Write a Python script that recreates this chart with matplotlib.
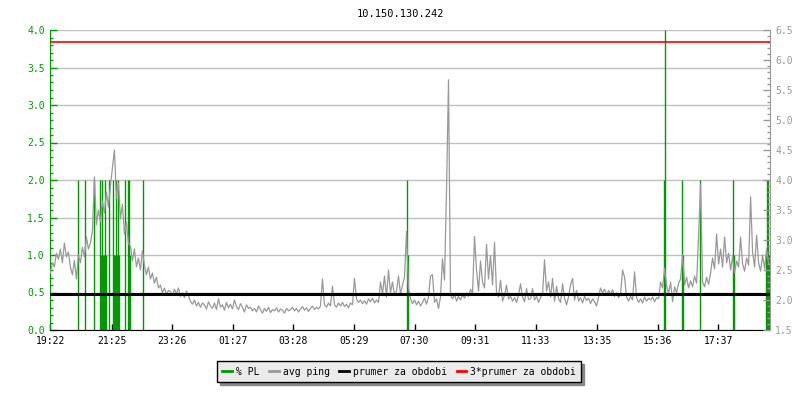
import numpy as np
import matplotlib.pyplot as plt
from matplotlib.lines import Line2D
from matplotlib.ticker import MultipleLocator, FormatStrFormatter

plt.rcParams['font.family'] = ['DejaVu Sans Mono']

# popis grafu
title = "10.150.130.242"
start_time = "19:22"
step_min = 4
tick_labels = ["19:22", "21:25", "23:26", "01:27", "03:28", "05:29",
               "07:30", "09:31", "11:33", "13:35", "15:36", "17:37"]

# avg ping [ms], jeden vzorek kazde 4 minuty
avg_ping = [
    2.45, 2.62, 2.55, 2.78, 2.68, 2.85, 2.62, 2.95, 2.72, 2.80, 2.55, 2.42, 2.66, 2.35, 2.75, 2.62, 2.88, 2.72, 3.05, 2.85,
    2.95, 3.15, 4.05, 3.25, 3.50, 3.30, 3.65, 3.45, 3.80, 3.55, 3.90, 4.20, 4.50, 3.70, 3.95, 3.35, 3.60, 3.10, 3.30, 2.95,
    2.90, 2.65, 2.85, 2.55, 2.70, 2.50, 2.82, 2.58, 2.42, 2.55, 2.35, 2.45, 2.28, 2.38, 2.20, 2.25, 2.12, 2.20, 2.10, 2.16,
    2.14, 2.08, 2.18, 2.10, 2.20, 2.06, 2.12, 2.04, 2.15, 2.08, 1.98, 1.93, 2.00, 1.90, 1.96, 1.88, 1.95, 1.92, 1.85, 1.97,
    1.90, 1.86, 1.95, 1.84, 2.02, 1.88, 1.92, 1.83, 1.96, 1.87, 1.93, 1.85, 2.00, 1.89, 1.84, 1.94, 1.88, 1.80, 1.92, 1.86,
    1.88, 1.82, 1.86, 1.80, 1.90, 1.84, 1.78, 1.86, 1.81, 1.88, 1.79, 1.84, 1.82, 1.87, 1.80, 1.85, 1.83, 1.78, 1.86, 1.82,
    1.84, 1.88, 1.82, 1.86, 1.80, 1.85, 1.89, 1.83, 1.87, 1.81, 1.86, 1.90, 1.84, 1.88, 1.85, 1.90, 2.35, 1.92, 1.88, 1.95,
    1.90, 2.23, 1.92, 1.88, 1.95, 1.90, 1.96, 1.89, 1.93, 1.87, 1.95, 1.92, 2.36, 2.02, 1.96, 2.00, 1.94, 1.99, 1.93, 2.02,
    1.97, 2.03, 1.95, 2.00, 1.96, 2.30, 2.10, 2.40, 2.05, 2.50, 2.12, 2.30, 2.08, 2.15, 2.40, 2.10, 2.25, 2.38, 3.14, 2.20,
    2.02, 1.94, 2.00, 1.92, 1.98, 1.90, 1.96, 2.03, 1.93, 2.05, 2.40, 2.42, 1.96, 2.02, 1.86, 2.05, 2.69, 2.33, 3.83, 5.67,
    2.08, 2.02, 2.10, 1.98, 2.06, 2.00, 2.09, 2.03, 2.12, 2.06, 2.18, 2.10, 3.06, 2.50, 2.15, 2.65, 2.30, 2.20, 2.93, 2.35,
    2.74, 2.25, 2.96, 2.12, 2.05, 2.33, 1.98, 2.08, 2.25, 2.02, 2.06, 1.98, 2.04, 1.96, 2.08, 2.27, 2.05, 1.97, 2.19, 2.01,
    2.02, 2.19, 2.00, 2.06, 1.96, 2.04, 2.10, 2.67, 2.15, 2.30, 2.05, 2.36, 1.98, 2.23, 2.02, 1.96, 2.27, 2.03, 1.92, 2.05,
    2.25, 2.36, 2.00, 2.16, 1.98, 2.04, 1.95, 2.06, 1.99, 2.03, 1.94, 2.02, 1.97, 1.90, 2.05, 2.20, 2.12, 2.18, 2.08, 2.16,
    2.10, 2.17, 2.06, 2.12, 2.04, 2.10, 2.50, 2.38, 2.05, 1.98, 2.06, 2.00, 2.47, 2.04, 1.96, 2.02, 1.95, 2.05, 1.98, 2.03,
    2.00, 2.05, 1.97, 2.04, 2.02, 2.30, 2.20, 2.53, 2.25, 2.10, 2.30, 1.97, 2.22, 2.12, 2.28, 2.35, 2.75, 2.25, 2.38, 2.20,
    2.32, 2.22, 2.40, 2.28, 3.08, 3.93, 2.30, 2.22, 2.38, 2.26, 2.45, 2.70, 2.52, 3.10, 2.60, 2.85, 2.55, 3.05, 2.62, 2.78,
    2.50, 2.72, 2.45, 2.65, 2.55, 3.05, 2.60, 2.48, 2.70, 2.58, 3.72, 2.80, 2.55, 3.08, 2.62, 2.48, 2.75, 2.52, 2.85, 2.60,
]

# % PL - jen nenulove vzorky (minuty od zacatku, hodnota)
pl_minutes = [56, 69, 87, 100, 102, 104, 106, 108, 110, 112, 117,
              126, 128, 130, 131, 132, 134, 136, 138, 149, 156, 158, 160, 185,
              713, 715, 1227, 1229, 1263, 1265, 1298, 1365, 1367,
              1431, 1432, 1433, 1434, 1435, 1436]
pl_values = [2, 2, 2, 2, 1, 2, 1, 1, 2, 1, 2,
             2, 1, 1, 2, 1, 1, 2, 1, 2, 2, 2, 1, 2,
             2, 1, 2, 4, 2, 1, 2, 2, 1,
             1, 2, 1, 1, 2, 1]

prumer = 2.1  # prumer za obdobi [ms]

green = '#009900'
grey = '#999999'


def minutes_since_start(hhmm):
    h, m = map(int, hhmm.split(':'))
    h0, m0 = map(int, start_time.split(':'))
    return (h * 60 + m - h0 * 60 - m0) % 1440


t = np.arange(len(avg_ping)) * step_min
tick_pos = [minutes_since_start(s) for s in tick_labels]

fig = plt.figure(figsize=(8, 4), dpi=100)
ax = fig.add_axes([0.063, 0.175, 0.899, 0.75])
ax2 = ax.twinx()

ax.vlines(pl_minutes, 0, pl_values, color=green, lw=1.0)
ax2.plot(t, avg_ping, color=grey, lw=0.9)
ax2.axhline(prumer, color='black', lw=2.2)
ax2.axhline(3 * prumer, color='red', lw=1.2)

ax.set_xlim(0, 1438)
ax.set_ylim(0, 4)
ax2.set_ylim(1.5, 6.5)

ax.set_xticks(tick_pos)
ax.set_xticklabels(tick_labels)
ax.tick_params(axis='x', direction='in', length=4, width=1, pad=4, labelsize=7)

for a, c in ((ax, green), (ax2, grey)):
    a.yaxis.set_major_locator(MultipleLocator(0.5))
    a.yaxis.set_minor_locator(MultipleLocator(0.1))
    a.yaxis.set_major_formatter(FormatStrFormatter('%.1f'))
    a.tick_params(axis='y', which='major', direction='in', length=5, width=1,
                  color=c, labelcolor=c, labelsize=7, pad=4)
    a.tick_params(axis='y', which='minor', direction='in', length=2.5, width=1, color=c)

ax.yaxis.grid(True, color='#c0c0c0', lw=1)
ax.set_axisbelow(True)

ax.spines['top'].set_visible(False)
ax.spines['right'].set_visible(False)
ax.spines['left'].set_color(green)
for s in ('top', 'left', 'bottom'):
    ax2.spines[s].set_visible(False)
ax2.spines['right'].set_color(grey)

fig.text(0.5, 1 - 14 / 400, title, ha='center', va='center', fontsize=7.5)

handles = [Line2D([], [], color=green, lw=2),
           Line2D([], [], color=grey, lw=2),
           Line2D([], [], color='black', lw=2),
           Line2D([], [], color='red', lw=2)]
labels = ["% PL", "avg ping", "prumer za obdobi", "3*prumer za obdobi"]
leg = fig.legend(handles, labels, loc='center', bbox_to_anchor=(0.499, 0.071), ncol=4,
                 fontsize=7, handlelength=1.0, handletextpad=0.4, columnspacing=1.0,
                 frameon=True, fancybox=False, borderpad=0.55,
                 shadow={'color': '#888888', 'alpha': 1})
leg.get_frame().set_facecolor('#ebebeb')
leg.get_frame().set_edgecolor('black')
leg.get_frame().set_alpha(1)

fig.savefig("out.png", dpi=100)
